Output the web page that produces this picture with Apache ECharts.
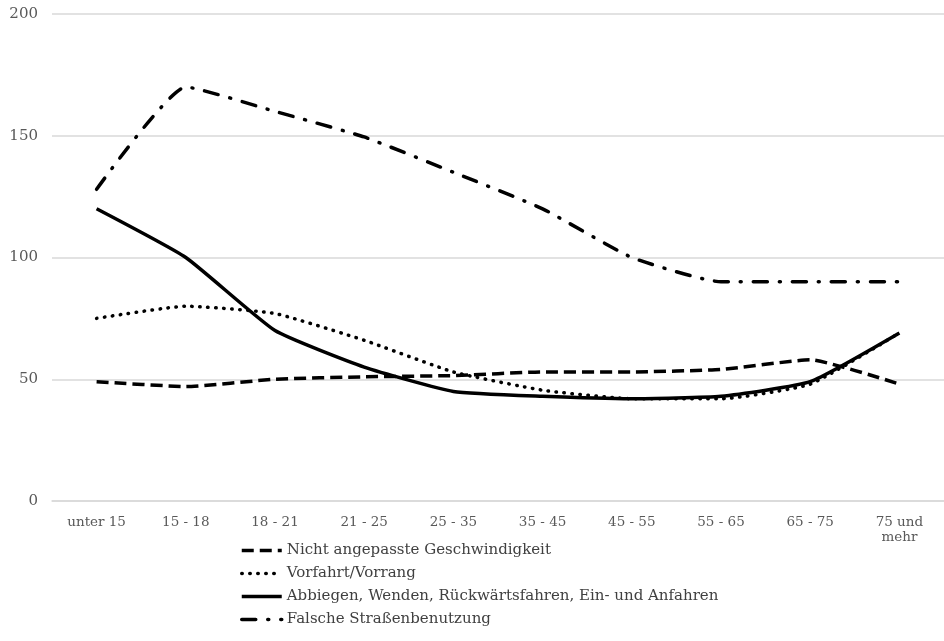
<!DOCTYPE html>
<html><head><meta charset="utf-8">
<script src="https://cdn.jsdelivr.net/npm/echarts@6/dist/echarts.min.js"></script>
<style>html,body{margin:0;padding:0;background:#fff}#c{width:944px;height:641px}</style>
</head><body><div id="c"></div>
<script>
const categories = ['unter 15','15 - 18','18 - 21','21 - 25','25 - 35','35 - 45','45 - 55','55 - 65','65 - 75','75 und\nmehr'];
const yTicks = [0, 50, 100, 150, 200];
const nichtAngepasst = [49, 47, 50, 51, 51.5, 53, 53, 54, 58, 48];
const vorfahrt = [75, 80, 77, 66, 53, 45.5, 42, 42, 48, 69];
const abbiegen = [120, 100, 70, 55, 45, 43, 42, 43, 49, 69];
const falscheStrasse = [128, 170, 160, 149.5, 135, 120, 100, 90, 90, 90];
const names = ['Nicht angepasste Geschwindigkeit','Vorfahrt/Vorrang','Abbiegen, Wenden, Rückwärtsfahren, Ein- und Anfahren','Falsche Straßenbenutzung'];

const font = 'DejaVu Serif, Liberation Serif, serif';
const chart = echarts.init(document.getElementById('c'));
function s(name, data, type, cap){
  return {name, type:'line', data, smooth:0.15, symbol:'none',
    lineStyle:{color:'#000', width:3.5, type, cap: cap||'butt'}, itemStyle:{color:'#000'}};
}
chart.setOption({
  animation:false,
  grid:{left:52, top:14, width:915, height:487},
  xAxis:{type:'category', data:categories, boundaryGap:true,
    axisLine:{show:true, lineStyle:{color:'#d9d9d9', width:1.5}}, axisTick:{show:false},
    axisLabel:{color:'#595959', fontFamily:font, fontSize:13.5, margin:14, lineHeight:15}},
  yAxis:{type:'value', min:yTicks[0], max:yTicks[yTicks.length-1], interval:50,
    axisLine:{show:false}, axisTick:{show:false},
    splitLine:{lineStyle:{color:'#d9d9d9', width:1.5}},
    axisLabel:{color:'#595959', fontFamily:font, fontSize:15, margin:14}},
  legend:{orient:'vertical', left:235, top:538, itemGap:8, itemWidth:40, itemHeight:14,
    itemStyle:{color:'rgba(0,0,0,0)', borderWidth:0, opacity:0},
    lineStyle:{width:3.5},
    textStyle:{color:'#404040', fontFamily:font, fontSize:15}, data:names},
  series:[
    s(names[0], nichtAngepasst, [12,6]),
    s(names[1], vorfahrt, [0.5,7.5], 'round'),
    s(names[2], abbiegen, 'solid'),
    s(names[3], falscheStrasse, [14,12,1,12], 'round')
  ]
});
</script></body></html>
